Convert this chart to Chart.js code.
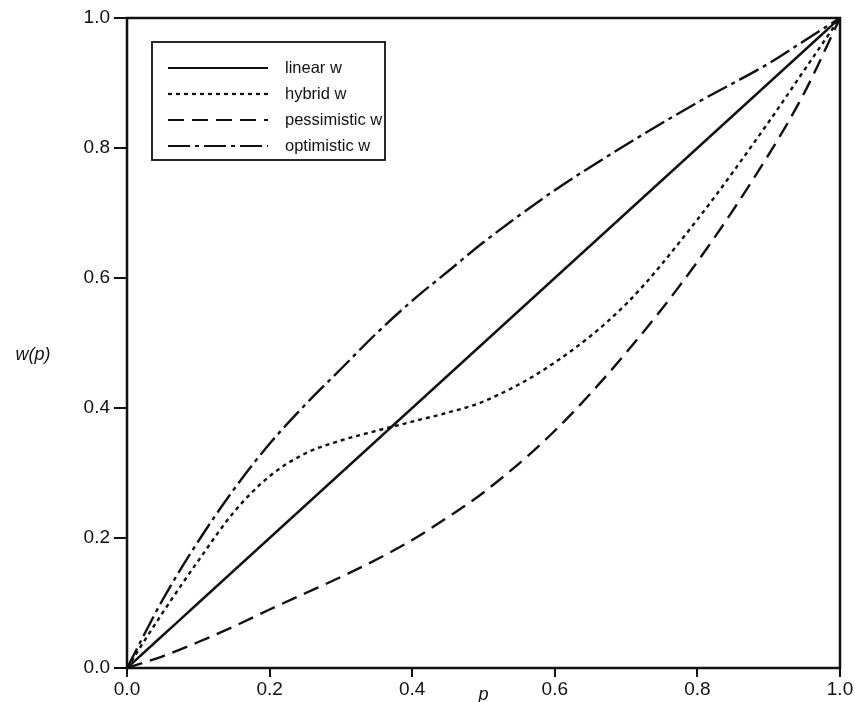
<!DOCTYPE html>
<html lang="en">
<head>
<meta charset="UTF-8">
<title>w(p)</title>
<style>
  html, body { margin: 0; padding: 0; background: #fff; }
  #wrap { width: 855px; height: 702px; }
</style>
</head>
<body>
<div id="wrap"><canvas id="myChart" width="855" height="702"></canvas></div>

<script src="https://cdn.jsdelivr.net/npm/chart.js"></script>
<script>
// data
const pVals       = [0, 0.05, 0.1, 0.15, 0.2, 0.25, 0.3, 0.35, 0.4, 0.45, 0.5, 0.6, 0.7, 0.8, 0.9, 0.95, 1.0];
const linearW     = [0, 0.05, 0.1, 0.15, 0.2, 0.25, 0.3, 0.35, 0.4, 0.45, 0.5, 0.6, 0.7, 0.8, 0.9, 0.95, 1.0];
const hybridW     = [0, 0.085, 0.165, 0.24, 0.295, 0.33, 0.35, 0.365, 0.379, 0.393, 0.41, 0.47, 0.56, 0.69, 0.84, 0.92, 1.0];
const pessimistW  = [0, 0.018, 0.04, 0.064, 0.09, 0.115, 0.14, 0.167, 0.197, 0.232, 0.27, 0.365, 0.485, 0.625, 0.79, 0.885, 1.0];
const optimistW   = [0, 0.105, 0.195, 0.275, 0.345, 0.405, 0.46, 0.515, 0.565, 0.61, 0.655, 0.735, 0.805, 0.87, 0.93, 0.965, 1.0];
const tickVals    = [0, 0.2, 0.4, 0.6, 0.8, 1.0];
const seriesNames = ['linear w', 'hybrid w', 'pessimistic w', 'optimistic w'];
const dashes      = [[], [4, 4], [16, 8], [22, 5, 4, 5]];

const FONT = '"Liberation Sans", Arial, Helvetica, sans-serif';

function pts(ys) {
  return pVals.map((p, i) => ({ x: p, y: ys[i] }));
}

const allSeries = [linearW, hybridW, pessimistW, optimistW];
const datasets = allSeries.map((ys, i) => ({
  label: seriesNames[i],
  data: pts(ys),
  borderColor: '#111',
  borderWidth: 2.4,
  borderDash: dashes[i],
  pointRadius: 0,
  fill: false,
  cubicInterpolationMode: 'monotone'
}));

// frame, axis titles and the boxed legend inside the plot
const decor = {
  id: 'decor',
  afterDraw(chart) {
    const c = chart.ctx;
    const a = chart.chartArea;
    c.save();
    c.strokeStyle = '#111';
    c.lineWidth = 2.5;
    c.strokeRect(a.left, a.top, a.right - a.left, a.bottom - a.top);

    c.fillStyle = '#111';
    c.font = 'italic 18px ' + FONT;
    c.textAlign = 'center';
    c.textBaseline = 'middle';
    c.fillText('w(p)', 33, 355);
    c.fillText('p', (a.left + a.right) / 2, 695);

    // legend box
    const bx = 152, by = 42, bw = 233, bh = 118;
    c.lineWidth = 1.8;
    c.fillStyle = '#fff';
    c.fillRect(bx, by, bw, bh);
    c.strokeRect(bx, by, bw, bh);
    c.font = '16.5px ' + FONT;
    c.textAlign = 'left';
    chart.data.datasets.forEach((ds, i) => {
      const y = by + 26 + i * 26;
      c.setLineDash(ds.borderDash);
      c.lineWidth = 2.2;
      c.beginPath();
      c.moveTo(bx + 16, y);
      c.lineTo(bx + 116, y);
      c.stroke();
      c.setLineDash([]);
      c.fillStyle = '#111';
      c.fillText(ds.label, bx + 133, y);
    });
    c.restore();
  }
};

const ctx = document.getElementById('myChart');

let chart = new Chart(ctx, {
  type: 'line',
  data: { datasets: datasets },
  options: {
    responsive: false,
    animation: false,
    layout: { padding: { top: 18, right: 15, left: 0, bottom: 0 } },
    plugins: { legend: { display: false }, tooltip: { enabled: false } },
    scales: {
      x: {
        type: 'linear',
        min: 0, max: 1,
        afterBuildTicks: s => { s.ticks = tickVals.map(v => ({ value: v })); },
        afterFit: s => { s.height = 34; },
        ticks: {
          color: '#111',
          font: { family: FONT, size: 19 },
          padding: 1,
          maxRotation: 0,
          callback: v => v.toFixed(1)
        },
        grid: { drawOnChartArea: false, drawTicks: true, tickLength: 9, color: '#111', lineWidth: 2 },
        border: { display: false }
      },
      y: {
        type: 'linear',
        min: 0, max: 1,
        afterBuildTicks: s => { s.ticks = tickVals.map(v => ({ value: v })); },
        afterFit: s => { s.width = 127; },
        ticks: {
          color: '#111',
          font: { family: FONT, size: 19 },
          padding: 4,
          callback: v => v.toFixed(1)
        },
        grid: { drawOnChartArea: false, drawTicks: true, tickLength: 13, color: '#111', lineWidth: 2 },
        border: { display: false }
      }
    }
  },
  plugins: [decor]
});
</script>
</body>
</html>
